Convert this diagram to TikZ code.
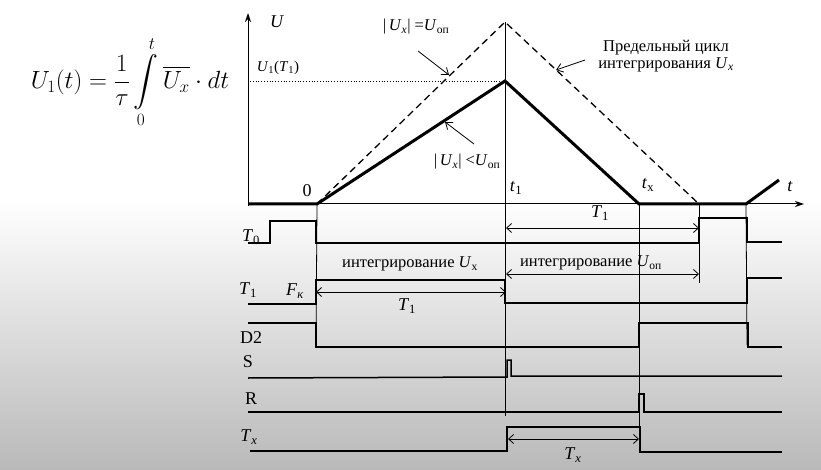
\documentclass[tikz,border=0pt]{standalone}
\usepackage{amsmath}
\usepackage{fontspec}
\setmainfont{Liberation Serif}
\usetikzlibrary{arrows.meta}
\begin{document}
\begin{tikzpicture}[x=1pt,y=-1pt,
  sig/.style={line width=1.5pt,line join=miter},
  guide/.style={line width=0.8pt},
  curve/.style={line width=3pt,line join=miter},
  limit/.style={line width=1.3pt,dash pattern=on 7pt off 4.5pt},
  dim/.style={line width=0.8pt,{Straight Barb[length=5pt,width=9pt]}-{Straight Barb[length=5pt,width=9pt]}},
  pointer/.style={line width=0.8pt,-{Straight Barb[length=6pt,width=9pt]}},
  axis/.style={line width=1pt,-{Stealth[length=9pt,width=6pt]}},
  lbl/.style={inner sep=0pt,font=\fontsize{18}{20}\selectfont},
  txt/.style={inner sep=0pt,font=\fontsize{16.5}{19}\selectfont}]
\useasboundingbox (0,0) rectangle (821,470);
\fill[white] (0,0) rectangle (821,200);
\shade[top color=white,bottom color={rgb,255:red,185;green,185;blue,185}] (0,200) rectangle (821,470);

% formula
\node[inner sep=0pt] (formula) at (130,82) {\fontsize{24.5}{29}\selectfont$\displaystyle U_1(t)=\frac{1}{\tau}\int\limits_0^t \overline{U_x}\cdot dt$};

% key points
\coordinate (A0) at (248,204);
\coordinate (Z) at (317,204);
\coordinate (P) at (505,81);
\coordinate (Q) at (505,22);
\coordinate (TX) at (639,204);
\coordinate (D) at (699,204);
\coordinate (E) at (746,204);
\coordinate (F) at (779,180);

% axes
\draw[axis] (248,206) -- (248,13);
\draw[axis] (A0) -- (804,204);

% dotted level
\draw[dotted,line width=0.8pt] (250,81) -- (P);

% guide verticals
\draw[guide] (505,22) -- (505,416);
\draw[guide] (Z) -- (316,347);
\draw[guide] (TX) -- (639,451);
\draw[guide] (D) -- (699,283);
\draw[guide] (E) -- (747,345);

% curves
\draw[limit] (Z) -- (Q) -- (D);
\draw[curve] (A0) -- (Z) -- (P) -- (TX) -- (E) -- (F);

% upper labels
\node[lbl] (lU) at (277,22) {\textit{U}};
\node[inner sep=0pt,font=\fontsize{15}{17}\selectfont] (lU1) at (278,68) {\textit{U}\textsubscript{1}(\textit{T}\textsubscript{1})};
\node[txt] (eq) at (416,27) {|\,\textit{U}\textsubscript{\textit{x}}| =\textit{U}\textsubscript{оп}};
\node[txt] (lt) at (467,162) {|\,\textit{U}\textsubscript{\textit{x}}| <\textit{U}\textsubscript{оп}};
\node[txt,align=center] (lim) at (666,56) {Предельный цикл\\[-2pt] интегрирования \textit{U}\textsubscript{\textit{x}}};
\node[lbl] (l0) at (307,191) {0};
\node[lbl] (lt1) at (516,188) {\textit{t}\textsubscript{1}};
\node[lbl] (ltx) at (648,185) {\textit{t}\textsubscript{x}};
\node[lbl] (ltt) at (790,187) {\textit{t}};

% pointer arrows
\coordinate (eqA) at (418,51);
\coordinate (eqB) at (449,75);
\draw[pointer] (eqA) -- (eqB);
\coordinate (ltA) at (474,144);
\coordinate (ltB) at (445,122);
\draw[pointer] (ltA) -- (ltB);
\coordinate (limA) at (585,60);
\coordinate (limB) at (556,70);
\draw[pointer] (limA) -- (limB);

% row labels
\node[lbl] (nT0) at (251,237) {\textit{T}\textsubscript{0}};
\node[lbl] (nT1) at (248,290) {\textit{T}\textsubscript{1}};
\node[lbl] (nFk) at (295,291) {\textit{F}\textsubscript{\textit{к}}};
\node[lbl] (nD2) at (251,338) {D2};
\node[lbl] (nS) at (248,362) {S};
\node[lbl] (nR) at (251,399) {R};
\node[lbl] (nTx) at (249,437) {\textit{T}\textsubscript{\textit{x}}};

% signals
\draw[sig] (248,243) -- (270,243) -- (270,221) -- (316,221) -- (316,243) -- (699,243) -- (699,218) -- (747,218) -- (747,242) -- (782,242);
\draw[sig] (248,304) -- (316,304) -- (316,280) -- (505,280) -- (505,303) -- (747,303) -- (747,278) -- (782,278);
\draw[sig] (248,323) -- (316,323) -- (316,347) -- (639,347) -- (639,323) -- (748,323) -- (748,347) -- (782,347);
\draw[sig] (248,378) -- (507,377) -- (507,360) -- (511,360) -- (511,376) -- (782,376);
\draw[sig] (248,412) -- (639,412) -- (639,394) -- (644,394) -- (644,412) -- (782,412);
\draw[sig] (250,451) -- (507,451) -- (507,427) -- (640,427) -- (640,452) -- (782,452);

% dimension arrows and texts
\coordinate (d1a) at (316,292); \coordinate (d1b) at (506,292);
\draw[dim] (d1a) -- (d1b);
\node[lbl] (dT1a) at (407,306) {\textit{T}\textsubscript{1}};
\coordinate (d2a) at (506,228); \coordinate (d2b) at (699,228);
\draw[dim] (d2a) -- (d2b);
\node[lbl] (dT1b) at (600,213) {\textit{T}\textsubscript{1}};
\coordinate (d3a) at (506,274); \coordinate (d3b) at (699,274);
\draw[dim] (d3a) -- (d3b);
\node[txt] (intOp) at (591,263) {интегрирование \textit{U}\textsubscript{оп}};
\node[txt] (intX) at (410,264) {интегрирование \textit{U}\textsubscript{х}};
\coordinate (d4a) at (508,439); \coordinate (d4b) at (639,439);
\draw[dim] (d4a) -- (d4b);
\node[lbl] (dTx) at (573,455) {\textit{T}\textsubscript{\textit{x}}};
\end{tikzpicture}
\end{document}
